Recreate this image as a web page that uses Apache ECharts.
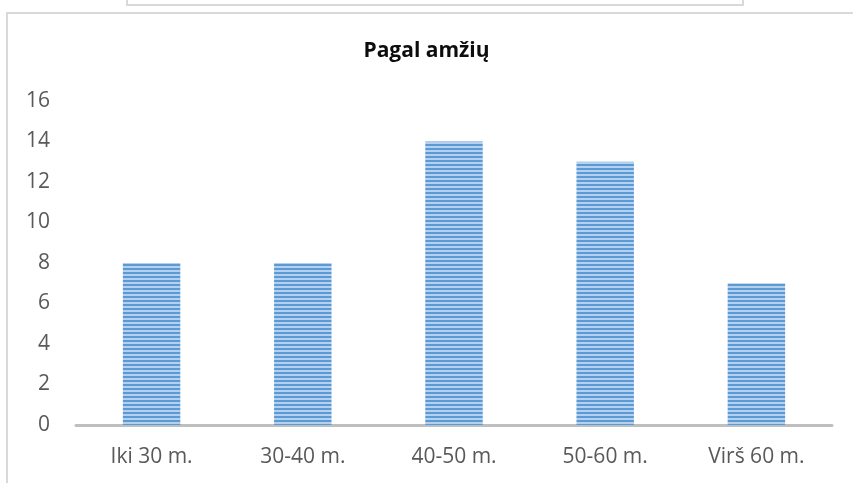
<!DOCTYPE html>
<html>
<head>
<meta charset="utf-8">
<script src="https://cdn.jsdelivr.net/npm/echarts@6/dist/echarts.min.js"></script>
<style>
html,body{margin:0;padding:0;background:#fff;}
#c{width:853px;height:483px;}
</style>
</head>
<body>
<div id="c"></div>
<script>
const categories = ['Iki 30 m.', '30-40 m.', '40-50 m.', '50-60 m.', 'Virš 60 m.'];
const values = [8, 8, 14, 13, 7];
const titleText = 'Pagal amžių';

const pat = document.createElement('canvas');
pat.width = 4; pat.height = 4;
const pc = pat.getContext('2d');
pc.fillStyle = '#B4D0EE'; pc.fillRect(0, 0, 4, 4);
pc.fillStyle = '#5B9BD5'; pc.fillRect(0, 0, 4, 2);

const chart = echarts.init(document.getElementById('c'));
chart.setOption({
  animation: false,
  backgroundColor: '#fff',
  title: {
    text: titleText,
    left: 'center',
    top: 36,
    textStyle: { fontFamily: 'Open Sans', fontWeight: 'bold', fontSize: 21, color: '#0d0d0d' }
  },
  graphic: [
    { type: 'rect', shape: { x: 7, y: 13, width: 860, height: 500 }, style: { fill: 'none', stroke: '#d9d9d9', lineWidth: 2 }, silent: true },
    { type: 'rect', shape: { x: 127, y: -10, width: 616, height: 15 }, style: { fill: 'none', stroke: '#d9d9d9', lineWidth: 2 }, silent: true }
  ],
  grid: { left: 76, right: 21, top: 101, bottom: 58 },
  xAxis: {
    type: 'category',
    data: categories,
    axisTick: { show: false },
    axisLine: { lineStyle: { color: '#bfbfbf', width: 3 } },
    axisLabel: { color: '#595959', fontSize: 21, fontFamily: 'Open Sans', margin: 22 }
  },
  yAxis: {
    type: 'value',
    min: 0, max: 16, interval: 2,
    splitLine: { show: false },
    axisLine: { show: false },
    axisTick: { show: false },
    axisLabel: { color: '#595959', fontSize: 21, fontFamily: 'Open Sans', margin: 26 }
  },
  series: [{
    type: 'bar',
    data: values,
    barWidth: '38%',
    itemStyle: { color: { image: pat, repeat: 'repeat' } }
  }]
});
</script>
</body>
</html>
